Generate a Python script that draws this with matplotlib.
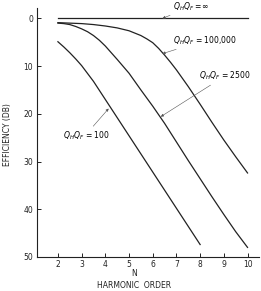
import numpy as np
import matplotlib
matplotlib.use("Agg")
from matplotlib import pyplot as plt

# harmonic order N and efficiency (dB)
n_inf = [2, 10]
eff_inf = [0, 0]

n_100k = [2, 2.5, 3, 3.5, 4, 4.5, 5, 5.25, 5.5, 5.75, 6, 6.25, 6.5, 6.75, 7, 7.5, 8, 8.5, 9, 9.5, 10]
eff_100k = [0.9, 1.0, 1.1, 1.3, 1.6, 2.0, 2.6, 3.1, 3.6, 4.3, 5.1, 6.3, 7.7, 9.2, 10.8, 14.3, 18.0, 21.8, 25.5, 29.0, 32.4]

n_2500 = [2, 2.25, 2.5, 2.75, 3, 3.25, 3.5, 3.75, 4, 4.5, 5, 5.5, 6, 6.5, 7, 7.5, 8, 8.5, 9, 9.5, 10]
eff_2500 = [1.0, 1.1, 1.3, 1.7, 2.2, 2.8, 3.6, 4.6, 5.8, 8.6, 11.5, 15.0, 18.4, 22.0, 25.9, 29.8, 33.6, 37.4, 41.1, 44.7, 48.0]

n_100 = [2, 2.25, 2.5, 2.75, 3, 3.5, 4, 4.5, 5, 5.5, 6, 6.5, 7, 7.5, 8]
eff_100 = [4.9, 6.0, 7.2, 8.5, 9.9, 13.2, 17.0, 20.8, 24.6, 28.4, 32.2, 36.0, 39.8, 43.6, 47.4]

x_ticks = [2, 3, 4, 5, 6, 7, 8, 9, 10]
y_ticks = [0, 10, 20, 30, 40, 50]

fs = 5.5
ink = "#222222"
fig = plt.figure(figsize=(2.61, 2.91), dpi=100)
ax = fig.add_axes([0.142, 0.117, 0.85, 0.856])

for xs, ys in [(n_inf, eff_inf), (n_100k, eff_100k), (n_2500, eff_2500), (n_100, eff_100)]:
    ax.plot(xs, ys, color=ink, lw=0.9)

ax.set_xlim(1.12, 10.48)
ax.set_ylim(50, -2.2)
ax.set_xticks(x_ticks)
ax.set_yticks(y_ticks)
ax.tick_params(direction="in", length=3, width=0.7, labelsize=fs, colors=ink)
ax.tick_params(axis="x", pad=2)
ax.tick_params(axis="y", pad=3)
for s in ["top", "right"]:
    ax.spines[s].set_visible(False)
for s in ["left", "bottom"]:
    ax.spines[s].set_linewidth(0.8)
    ax.spines[s].set_color(ink)

# axis titles placed by hand, as in the scan
fig.text(8 / 261, 1 - 135 / 291, "EFFICIENCY (DB)", rotation=90, fontsize=fs, color=ink,
         ha="center", va="center")
fig.text(0.5 + 0.015, 1 - 274 / 291, "N", fontsize=fs, color=ink, ha="center", va="center")
fig.text(0.5 + 0.015, 1 - 285 / 291, "HARMONIC  ORDER", fontsize=fs, color=ink, ha="center", va="center")

arrow = dict(arrowstyle="-|>", lw=0.4, color="#555555", mutation_scale=4, shrinkA=0, shrinkB=0)
ax.annotate(r"$Q_HQ_F = \infty$", xy=(6.41, 0), xytext=(6.85, -2.4), fontsize=fs,
            arrowprops=arrow, va="center", annotation_clip=False)
ax.annotate(r"$Q_HQ_F$ = 100,000", xy=(6.41, 7.4), xytext=(6.85, 4.6), fontsize=fs,
            arrowprops=arrow, va="center")
ax.annotate(r"$Q_HQ_F$ = 2500", xy=(6.34, 20.6), xytext=(7.95, 12.1), fontsize=fs,
            arrowprops=arrow, va="center")
ax.annotate(r"$Q_HQ_F$ = 100", xy=(4.14, 18.9), xytext=(2.2, 24.5), fontsize=fs,
            arrowprops=dict(arrow, relpos=(0.6, 1.0)), va="center")

fig.savefig("out.png", dpi=100)
